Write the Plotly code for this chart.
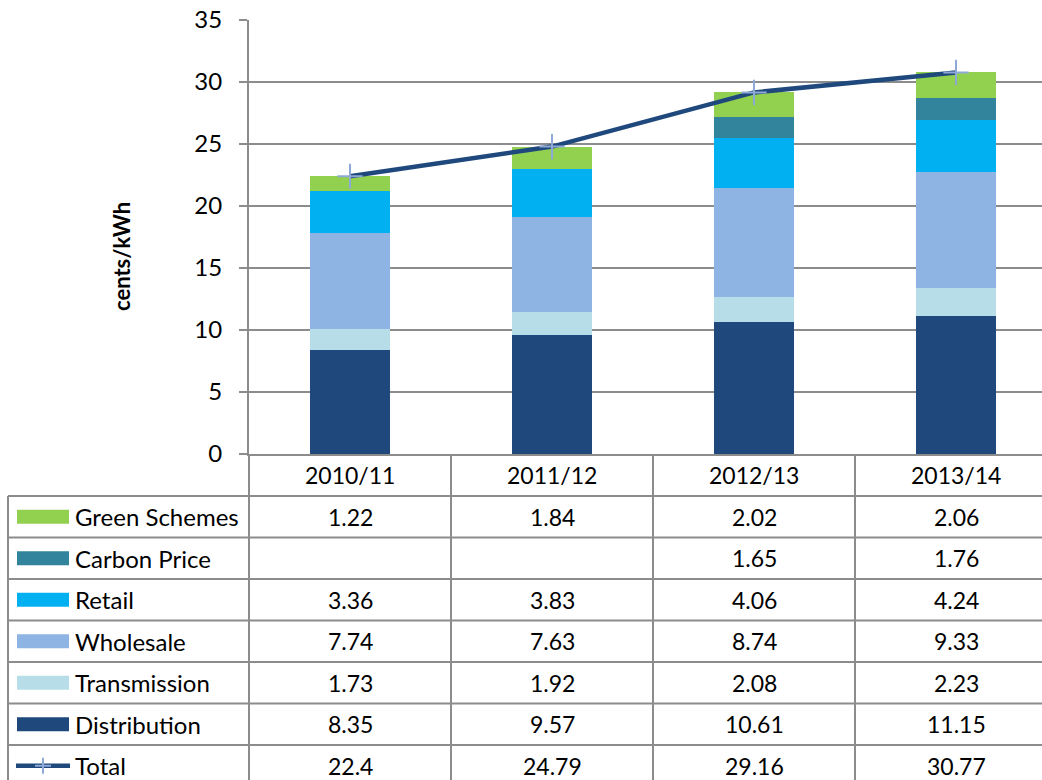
import plotly.graph_objects as go

# ---------------- data ----------------
years = ["2010/11", "2011/12", "2012/13", "2013/14"]
distribution = [8.35, 9.57, 10.61, 11.15]
transmission = [1.73, 1.92, 2.08, 2.23]
wholesale = [7.74, 7.63, 8.74, 9.33]
retail = [3.36, 3.83, 4.06, 4.24]
carbon_price = [None, None, 1.65, 1.76]
green_schemes = [1.22, 1.84, 2.02, 2.06]
total = [22.4, 24.79, 29.16, 30.77]

series_names = ["Distribution", "Transmission", "Wholesale", "Retail", "Carbon Price", "Green Schemes"]
series_values = [distribution, transmission, wholesale, retail, carbon_price, green_schemes]
series_colors = ["#1F497D", "#B7DEE8", "#8EB4E3", "#00B0F0", "#31849B", "#92D050"]
line_color = "#1F497D"
marker_color = "#8EA9D6"

y_ticks = [0, 5, 10, 15, 20, 25, 30, 35]
Y_AXIS_MAX = 35

# ---------------- layout geometry (screen pixels, page margin removed) ----------------
W, H = 1042, 780
L, T, BOT = 249, 20, 454      # plot-area edges
PW, PH = W - L, BOT - T
CAT_W = 202.0
ROW_TOP = 496.0
ROW_H = 41.5
TABLE_LEFT = 8
GRID = "#8C8C8C"
FONT = "Lato"
FS = 23
FS_LAB = 24


def px_x(px):
    return (px - L) / PW


def px_y(py):
    return (BOT - py) / PH


fig = go.Figure()
for name, vals, col in zip(series_names, series_values, series_colors):
    fig.add_trace(go.Bar(x=list(range(len(years))), y=vals, name=name,
                         marker=dict(color=col, line=dict(width=0)),
                         showlegend=False))

fig.add_trace(go.Scatter(x=list(range(len(years))), y=total, name="Total",
                         mode="lines+markers",
                         line=dict(color=line_color, width=4.5),
                         marker=dict(symbol="cross-thin", size=18,
                                     line=dict(color=marker_color, width=2)),
                         showlegend=False))

shapes = []
annotations = []

n = len(years)
# y-axis line extension through the header row / table
shapes.append(dict(type="line", xref="paper", yref="paper",
                   x0=0, x1=0, y0=px_y(BOT), y1=px_y(ROW_TOP + 8 * ROW_H),
                   line=dict(color=GRID, width=2)))
# category dividers
for i in range(n):
    xb = i + 0.5
    shapes.append(dict(type="line", xref="x", yref="paper",
                       x0=xb, x1=xb, y0=px_y(BOT), y1=px_y(ROW_TOP + 8 * ROW_H),
                       line=dict(color=GRID, width=2)))

# table rows
row_labels = ["Green Schemes", "Carbon Price", "Retail", "Wholesale",
              "Transmission", "Distribution", "Total"]
row_values = [green_schemes, carbon_price, retail, wholesale,
              transmission, distribution, total]
row_colors = ["#92D050", "#31849B", "#00B0F0", "#8EB4E3", "#B7DEE8", "#1F497D", None]

# left border
shapes.append(dict(type="line", xref="paper", yref="paper",
                   x0=px_x(TABLE_LEFT), x1=px_x(TABLE_LEFT),
                   y0=px_y(ROW_TOP), y1=px_y(ROW_TOP + 8 * ROW_H),
                   line=dict(color=GRID, width=2)))
for r in range(len(row_labels) + 1):
    yy = ROW_TOP + r * ROW_H
    shapes.append(dict(type="line", xref="paper", yref="paper",
                       x0=px_x(TABLE_LEFT), x1=1.05, y0=px_y(yy), y1=px_y(yy),
                       line=dict(color=GRID, width=2)))

# header category labels
for i, yr in enumerate(years):
    annotations.append(dict(x=i, y=px_y((BOT + ROW_TOP) / 2), xref="x", yref="paper",
                            text=yr, showarrow=False, xanchor="center", yanchor="middle",
                            font=dict(family=FONT, size=FS, color="black")))

for r, (lab, vals, col) in enumerate(zip(row_labels, row_values, row_colors)):
    yc = ROW_TOP + (r + 0.5) * ROW_H
    if col is not None:
        shapes.append(dict(type="rect", xref="paper", yref="paper",
                           x0=px_x(17), x1=px_x(69), y0=px_y(yc - 7), y1=px_y(yc + 7),
                           fillcolor=col, line=dict(width=0)))
    else:
        shapes.append(dict(type="line", xref="paper", yref="paper",
                           x0=px_x(16), x1=px_x(70), y0=px_y(yc), y1=px_y(yc),
                           line=dict(color=line_color, width=4.5)))
        shapes.append(dict(type="line", xref="paper", yref="paper",
                           x0=px_x(35), x1=px_x(51), y0=px_y(yc), y1=px_y(yc),
                           line=dict(color=marker_color, width=2)))
        shapes.append(dict(type="line", xref="paper", yref="paper",
                           x0=px_x(43), x1=px_x(43), y0=px_y(yc - 8), y1=px_y(yc + 8),
                           line=dict(color=marker_color, width=2)))
    annotations.append(dict(x=px_x(73), y=px_y(yc), xref="paper", yref="paper",
                            text=lab, showarrow=False, xanchor="left", yanchor="middle",
                            font=dict(family=FONT, size=FS_LAB, color="black")))
    for i, v in enumerate(vals):
        if v is None:
            continue
        annotations.append(dict(x=i, y=px_y(yc), xref="x", yref="paper",
                                text=f"{v:g}", showarrow=False, xanchor="center",
                                yanchor="middle",
                                font=dict(family=FONT, size=FS, color="black")))

# y-axis title
annotations.append(dict(x=px_x(121), y=px_y(257), xref="paper", yref="paper",
                        text="<b>cents/kWh</b>", textangle=-90, showarrow=False,
                        xanchor="center", yanchor="middle",
                        font=dict(family=FONT, size=22, color="black")))

fig.update_layout(
    width=W, height=H,
    margin=dict(l=L, r=0, t=T, b=H - BOT, pad=0),
    barmode="stack", bargap=1 - 80 / CAT_W,
    plot_bgcolor="white", paper_bgcolor="white",
    font=dict(family=FONT, size=FS, color="black"),
    shapes=shapes, annotations=annotations,
    xaxis=dict(range=[-0.5, -0.5 + PW / CAT_W], showticklabels=False,
               showgrid=False, zeroline=False, showline=True,
               linecolor=GRID, linewidth=2, ticks="", fixedrange=True),
    yaxis=dict(range=[0, Y_AXIS_MAX], tickvals=y_ticks, showgrid=True, gridcolor=GRID,
               gridwidth=2, zeroline=False, showline=True, linecolor=GRID, linewidth=2,
               ticks="outside", ticklen=8, tickcolor=GRID, tickwidth=2,
               ticklabelstandoff=12, ticklabeloverflow="allow",
               tickfont=dict(family=FONT, size=FS_LAB, color="black")),
)

fig.write_html(
    "out.html",
    config={"displayModeBar": False},
    post_script="document.body.style.margin='0';document.body.style.overflow='hidden';",
)
